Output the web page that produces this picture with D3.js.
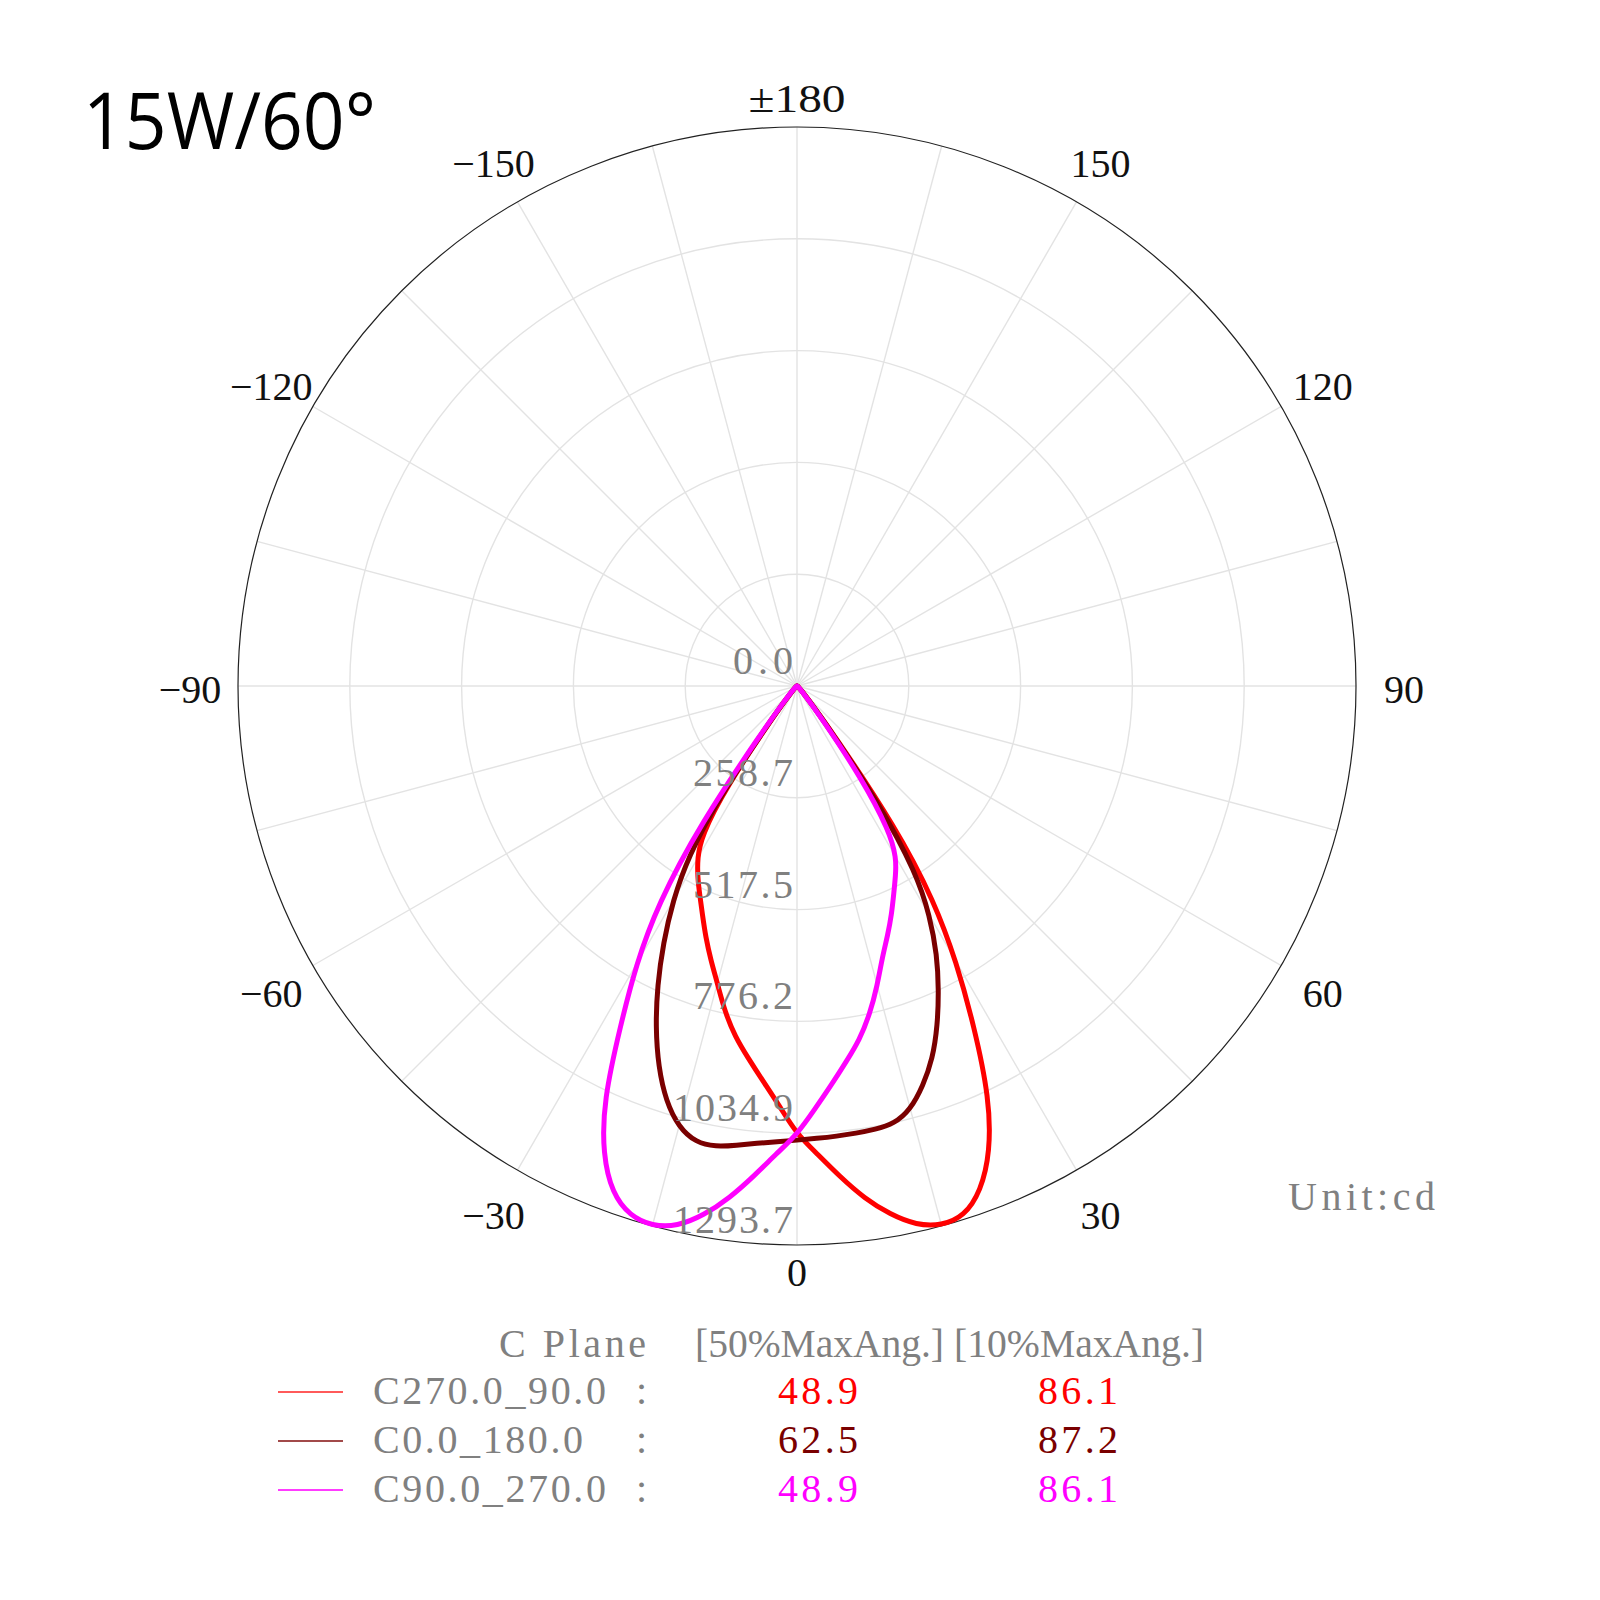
<!DOCTYPE html>
<html><head><meta charset="utf-8">
<script src="https://cdn.jsdelivr.net/npm/d3@7"></script>
<style>body{margin:0;background:#fff}</style>
</head><body>
<svg id="c" width="1600" height="1600"></svg>
<script>
// ---- data (candela vs gamma) ----
const gammas = [0,2.5,5,7.5,10,12.5,15,17.5,20,22.5,25,27.5,30,32.5,35,37.5,40,45,50,60,70,80,90];
// C270.0_90.0 plane (red): left half = C270, right half = C90
const redLeft   = [1038,970,916,868,824,772,712,664,618,572,533,498,461,412,290,95,32,11,4,1,0,0,0];
const redRight  = [1038,1084,1140,1196,1242,1278,1293,1287,1244,1168,1054,888,738,592,400,130,42,14,5,2,0,0,0];
// C0.0_180.0 plane (dark red)
const brownLeft  = [1051,1056,1062,1072,1083,1082,1057,1008,938,855,765,670,575,470,312,105,35,12,5,2,0,0,0];
const brownRight = [1051,1048,1046,1044,1042,1038,1015,970,918,850,776,702,615,515,332,110,38,12,5,2,0,0,0];
// C90.0_270.0 plane (magenta): left half = C90, right half = C270
const magentaLeft  = [1038,1083,1138,1195,1244,1281,1294,1286,1250,1174,1060,884,745,600,392,125,42,14,5,2,0,0,0];
const magentaRight = [1038,978,925,876,832,778,718,657,614,572,530,494,460,398,262,90,30,10,4,1,0,0,0];

const ringLabels = ["0.0","258.7","517.5","776.2","1034.9","1293.7"];
const maxCd = 1293.7;
const angleTicks  = [-150,-120,-90,-60,-30,0,30,60,90,120,150,180];
const angleLabels = ["\u2212150","\u2212120","\u221290","\u221260","\u221230","0","30","60","90","120","150","\u00b1180"];
const seriesNames  = ["C270.0_90.0","C0.0_180.0","C90.0_270.0"];
const seriesColors = ["#ff0000","#7a0000","#ff00ff"];
const legendColors = ["#ff5a5a","#a24a4a","#ff3cff"];
const max50 = ["48.9","62.5","48.9"];
const max10 = ["86.1","87.2","86.1"];
const titleText = "15W/60\u00b0";

// ---- layout ----
const cx = 797, cy = 686, R = 559;
const svg = d3.select("#c");
const rScale = d3.scaleLinear().domain([0, maxCd]).range([0, R]);
// gamma 0 at bottom, positive clockwise toward the right (90 at 3 o'clock)
const aScale = d3.scaleLinear().domain([-180, 180]).range([2*Math.PI, 0]);

const g = svg.append("g").attr("transform", `translate(${cx},${cy})`);

// spokes every 15 degrees
const spokes = d3.range(-180, 180, 15);
g.selectAll("line.spoke").data(spokes).join("line")
  .attr("x1", 0).attr("y1", 0)
  .attr("x2", d => R*Math.sin(aScale(d)))
  .attr("y2", d => -R*Math.cos(aScale(d)))
  .attr("stroke", "#e3e3e3").attr("stroke-width", 1.4);

// rings
const ringVals = d3.range(1, 5).map(i => i*maxCd/5);
g.selectAll("circle.ring").data(ringVals).join("circle")
  .attr("r", d => rScale(d)).attr("fill", "none")
  .attr("stroke", "#e3e3e3").attr("stroke-width", 1.4);
g.append("circle").attr("r", R).attr("fill", "none")
  .attr("stroke", "#222").attr("stroke-width", 1.2);

// series
function buildSeries(left, right) {
  const pts = [];
  for (let i = gammas.length - 1; i > 0; i--) pts.push([-gammas[i], left[i]]);
  pts.push([0, (left[0] + right[0]) / 2]);
  for (let i = 1; i < gammas.length; i++) pts.push([gammas[i], right[i]]);
  return pts;
}
const series = [
  buildSeries(redLeft, redRight),
  buildSeries(brownLeft, brownRight),
  buildSeries(magentaLeft, magentaRight)
];
const line = d3.lineRadial()
  .angle(d => aScale(d[0]))
  .radius(d => rScale(d[1]))
  .curve(d3.curveBasis);
series.forEach((s, i) => {
  g.append("path").attr("d", line(s)).attr("fill", "none")
    .attr("stroke", seriesColors[i]).attr("stroke-width", 5)
    .attr("stroke-linejoin", "round").attr("stroke-linecap", "round");
});

// ring labels (placed along the downward spoke, just above each ring)
const serif = "'Liberation Serif','Times New Roman',serif";
ringLabels.forEach((t, i) => {
  const y = rScale(i*maxCd/5) - 12;
  g.append("text").text(t)
    .attr("x", -4).attr("y", y)
    .attr("text-anchor", "end")
    .attr("font-family", serif).attr("font-size", 40)
    .attr("fill", "#808080")
    .attr("textLength", t.length*20).attr("lengthAdjust", "spacing");
});

// angle labels
angleTicks.forEach((a, i) => {
  const ang = aScale(a);
  const vertical = (a === 0 || a === 180);
  const rl = vertical ? 587 : 607;
  const x = rl*Math.sin(ang);
  const y = -rl*Math.cos(ang) + (vertical ? 0 : 4);
  const t = g.append("text").text(angleLabels[i])
    .attr("x", x).attr("y", y + 13)
    .attr("text-anchor", "middle")
    .attr("font-family", serif).attr("font-size", 40)
    .attr("fill", "#111");
  if (a === 180) t.attr("textLength", 97).attr("lengthAdjust", "spacingAndGlyphs");
});

// title
svg.append("text").text(titleText)
  .attr("x", 83).attr("y", 149)
  .attr("font-family", "'Open Sans','Noto Sans',sans-serif")
  .attr("font-size", 78).attr("fill", "#000")
  .attr("textLength", 293).attr("lengthAdjust", "spacingAndGlyphs");

// unit
svg.append("text").text("Unit:cd")
  .attr("x", 1288).attr("y", 1210)
  .attr("font-family", serif).attr("font-size", 40).attr("fill", "#808080")
  .attr("textLength", 147).attr("lengthAdjust", "spacing");

// legend
const lg = svg.append("g");
const gray = "#808080";
lg.append("text").text("C Plane").attr("x", 499).attr("y", 1357)
  .attr("font-family", serif).attr("font-size", 40).attr("fill", gray)
  .attr("textLength", 147).attr("lengthAdjust", "spacing");
lg.append("text").text("[50%MaxAng.]").attr("x", 695).attr("y", 1357)
  .attr("font-family", serif).attr("font-size", 40).attr("fill", gray)
  .attr("textLength", 249).attr("lengthAdjust", "spacingAndGlyphs");
lg.append("text").text("[10%MaxAng.]").attr("x", 954).attr("y", 1357)
  .attr("font-family", serif).attr("font-size", 40).attr("fill", gray)
  .attr("textLength", 250).attr("lengthAdjust", "spacingAndGlyphs");
const nameLen = [233, 210, 233];
seriesNames.forEach((n, i) => {
  const yb = 1404 + i*49;
  lg.append("line").attr("x1", 278).attr("x2", 343)
    .attr("y1", yb - 12).attr("y2", yb - 12)
    .attr("stroke", legendColors[i]).attr("stroke-width", 2);
  lg.append("text").text(n).attr("x", 373).attr("y", yb)
    .attr("font-family", serif).attr("font-size", 40).attr("fill", gray)
    .attr("textLength", nameLen[i]).attr("lengthAdjust", "spacing");
  lg.append("text").text(":").attr("x", 636).attr("y", yb)
    .attr("font-family", serif).attr("font-size", 40).attr("fill", gray);
  lg.append("text").text(max50[i]).attr("x", 818).attr("y", yb)
    .attr("text-anchor", "middle")
    .attr("font-family", serif).attr("font-size", 40).attr("fill", seriesColors[i])
    .attr("textLength", 80).attr("lengthAdjust", "spacing");
  lg.append("text").text(max10[i]).attr("x", 1078).attr("y", yb)
    .attr("text-anchor", "middle")
    .attr("font-family", serif).attr("font-size", 40).attr("fill", seriesColors[i])
    .attr("textLength", 80).attr("lengthAdjust", "spacing");
});
</script>
</body></html>
